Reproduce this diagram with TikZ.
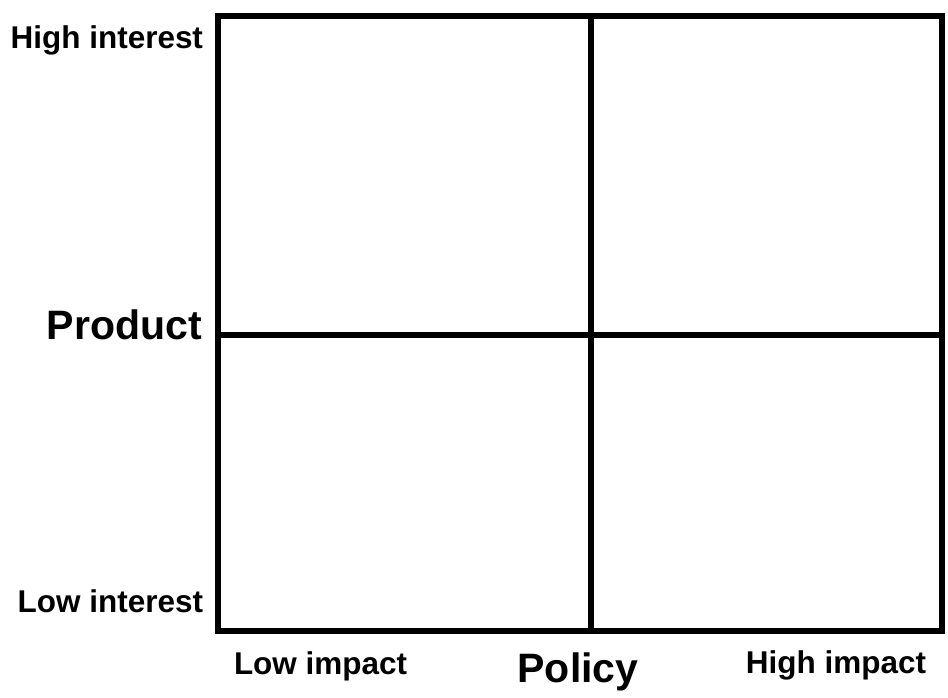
\documentclass[tikz,border=0pt]{standalone}
\usepackage{fontspec}
\setmainfont{Liberation Sans}
\usepackage{tikz}
\usetikzlibrary{positioning}

\begin{document}
\begin{tikzpicture}[x=0.75pt, y=-0.75pt,
  grid/.style={line width=4.1pt, line cap=rect},
  axlbl/.style={font=\fontsize{23.6pt}{28pt}\selectfont\bfseries,
    inner sep=0pt, outer sep=0pt},
  axname/.style={font=\fontsize{30.8pt}{36pt}\selectfont\bfseries,
    inner sep=0pt, outer sep=0pt}
]
\useasboundingbox (0,0) rectangle (948,698);

% corners and centre of the matrix
\coordinate (nw) at (218,16);
\coordinate (se) at (942,631);
\coordinate (mid) at (591,335);

\draw[grid] (nw) rectangle (se);
\draw[grid] (mid |- nw) -- (mid |- se);
\draw[grid] (mid -| nw) -- (mid -| se);

% vertical axis
\node[axlbl, anchor=base east] (hiint) at (203,49) {High interest};
\node[axname, anchor=base east] (prod) at (202,339) {Product};
\node[axlbl, anchor=base east] (loint) at (203,612) {Low interest};

% horizontal axis
\node[axlbl, anchor=base west] (loimp) at (234,674) {Low impact};
\node[axname, anchor=base] (pol) at (578,682) {Policy};
\node[axlbl, anchor=base east] (hiimp) at (926,673) {High impact};
\end{tikzpicture}
\end{document}
